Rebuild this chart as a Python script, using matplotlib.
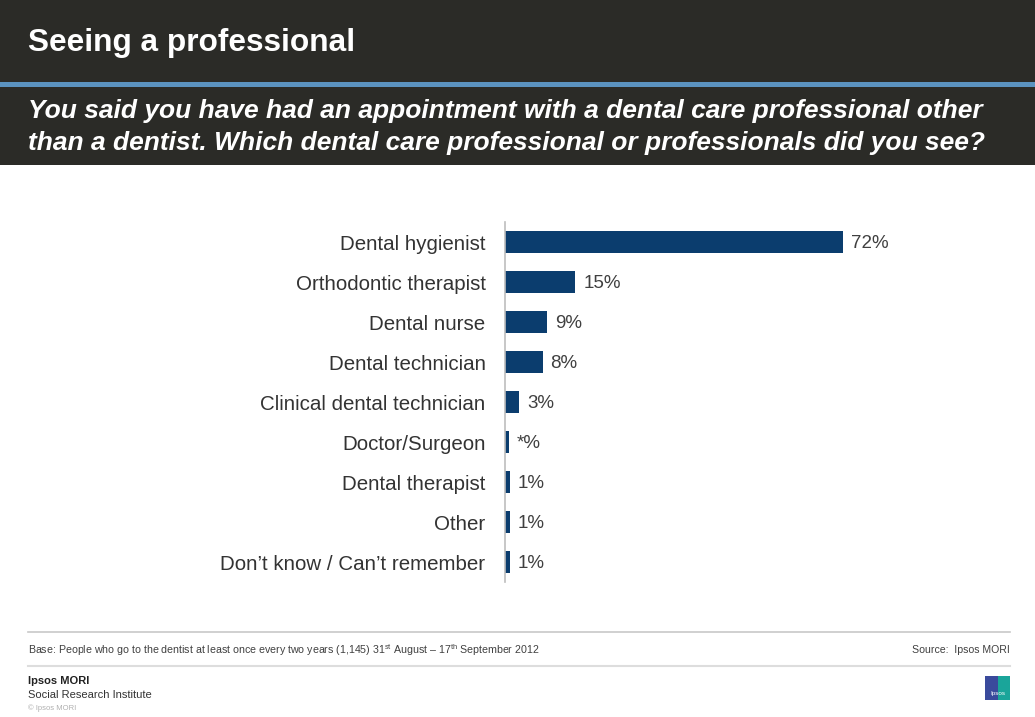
import matplotlib.pyplot as plt
from matplotlib.patches import Rectangle

plt.rcParams['font.family'] = ['Liberation Sans', 'DejaVu Sans']
plt.rcParams['mathtext.fontset'] = 'custom'
plt.rcParams['mathtext.rm'] = 'Liberation Sans'

# data
categories = ["Dental hygienist", "Orthodontic therapist", "Dental nurse",
              "Dental technician", "Clinical dental technician", "Doctor/Surgeon",
              "Dental therapist", "Other", "Don\u2019t know / Can\u2019t remember"]
values = [72, 15, 9, 8, 3, 0.8, 1, 1, 1]
value_labels = ["72%", "15%", "9%", "8%", "3%", "*%", "1%", "1%", "1%"]

title = "Seeing a professional"
question = ("You said you have had an appointment with a dental care professional other\n"
            "than a dentist. Which dental care professional or professionals did you see?")
base_note = ("Base: People who go to the dentist at least once every two years (1,145) 31$^{\\mathrm{st}}$"
             " August \u2013 17$^{\\mathrm{th}}$ September 2012")
source_note = "Source:  Ipsos MORI"

W, H = 1035, 717
fig = plt.figure(figsize=(W / 100, H / 100), dpi=100)
fig.patch.set_facecolor('white')

# header bands
dark = '#2b2b27'
fig.patches.append(Rectangle((0, 1 - 82 / H), 1, 82 / H, transform=fig.transFigure,
                             facecolor=dark, edgecolor='none', zorder=0))
fig.patches.append(Rectangle((0, 1 - 87 / H), 1, 5 / H, transform=fig.transFigure,
                             facecolor='#5b93c0', edgecolor='none', zorder=0))
fig.patches.append(Rectangle((0, 1 - 165 / H), 1, 78 / H, transform=fig.transFigure,
                             facecolor=dark, edgecolor='none', zorder=0))
fig.text(28 / W, 1 - 43 / H, title, color='white', fontsize=22.8, fontweight='bold',
         va='center', ha='left')
fig.text(28 / W, 1 - 127 / H, question, color='white', fontsize=19, fontweight='bold',
         fontstyle='italic', va='center', ha='left', linespacing=1.42)

# chart
ax = fig.add_axes([505 / W, 1 - 582 / H, 469 / W, 360 / H])
y = list(range(len(categories)))
ax.barh(y, values, height=0.55, color='#0b3d6e')
for yi, v, lab in zip(y, values, value_labels):
    ax.text(v + 1.7, yi, lab, va='center_baseline', ha='left', fontsize=13.5, color='#404040')
ax.set_xlim(0, 100)
ax.set_ylim(len(categories) - 0.5, -0.5)
ax.set_yticks(y)
ax.set_yticklabels(categories, fontsize=14.8, color='#333333')
ax.tick_params(axis='y', length=0, pad=14)
ax.set_xticks([])
for s in ['top', 'right', 'bottom']:
    ax.spines[s].set_visible(False)
ax.spines['left'].set_color('#bdbdbd')
ax.spines['left'].set_linewidth(1.2)

# footer
fig.add_artist(plt.Line2D([28 / W, 1010 / W], [1 - 632 / H] * 2, color='#c8c8c8', lw=1.2))
fig.add_artist(plt.Line2D([28 / W, 1010 / W], [1 - 666 / H] * 2, color='#dddddd', lw=1.5))
fig.text(28 / W, 1 - 650 / H, base_note, fontsize=7.7, color='#404040', va='center')
fig.text(1010 / W, 1 - 650 / H, source_note, fontsize=7.6, color='#404040', va='center', ha='right')
fig.text(28 / W, 1 - 681 / H, "Ipsos MORI", fontsize=8, fontweight='bold', color='#222222', va='center')
fig.text(28 / W, 1 - 695 / H, "Social Research Institute", fontsize=8, color='#333333', va='center')
fig.text(28 / W, 1 - 708 / H, "\u00a9 Ipsos MORI", fontsize=5.5, color='#b0b0b0', va='center')

# logo
fig.patches.append(Rectangle((985 / W, 1 - 700 / H), 13 / W, 24 / H, transform=fig.transFigure,
                             facecolor='#3a4a9c', edgecolor='none'))
fig.patches.append(Rectangle((998 / W, 1 - 700 / H), 12 / W, 24 / H, transform=fig.transFigure,
                             facecolor='#1aa59a', edgecolor='none'))
fig.text(997.5 / W, 1 - 693 / H, "Ipsos", fontsize=4.5, color='white', ha='center', va='center')

fig.savefig('out.png', dpi=100)
